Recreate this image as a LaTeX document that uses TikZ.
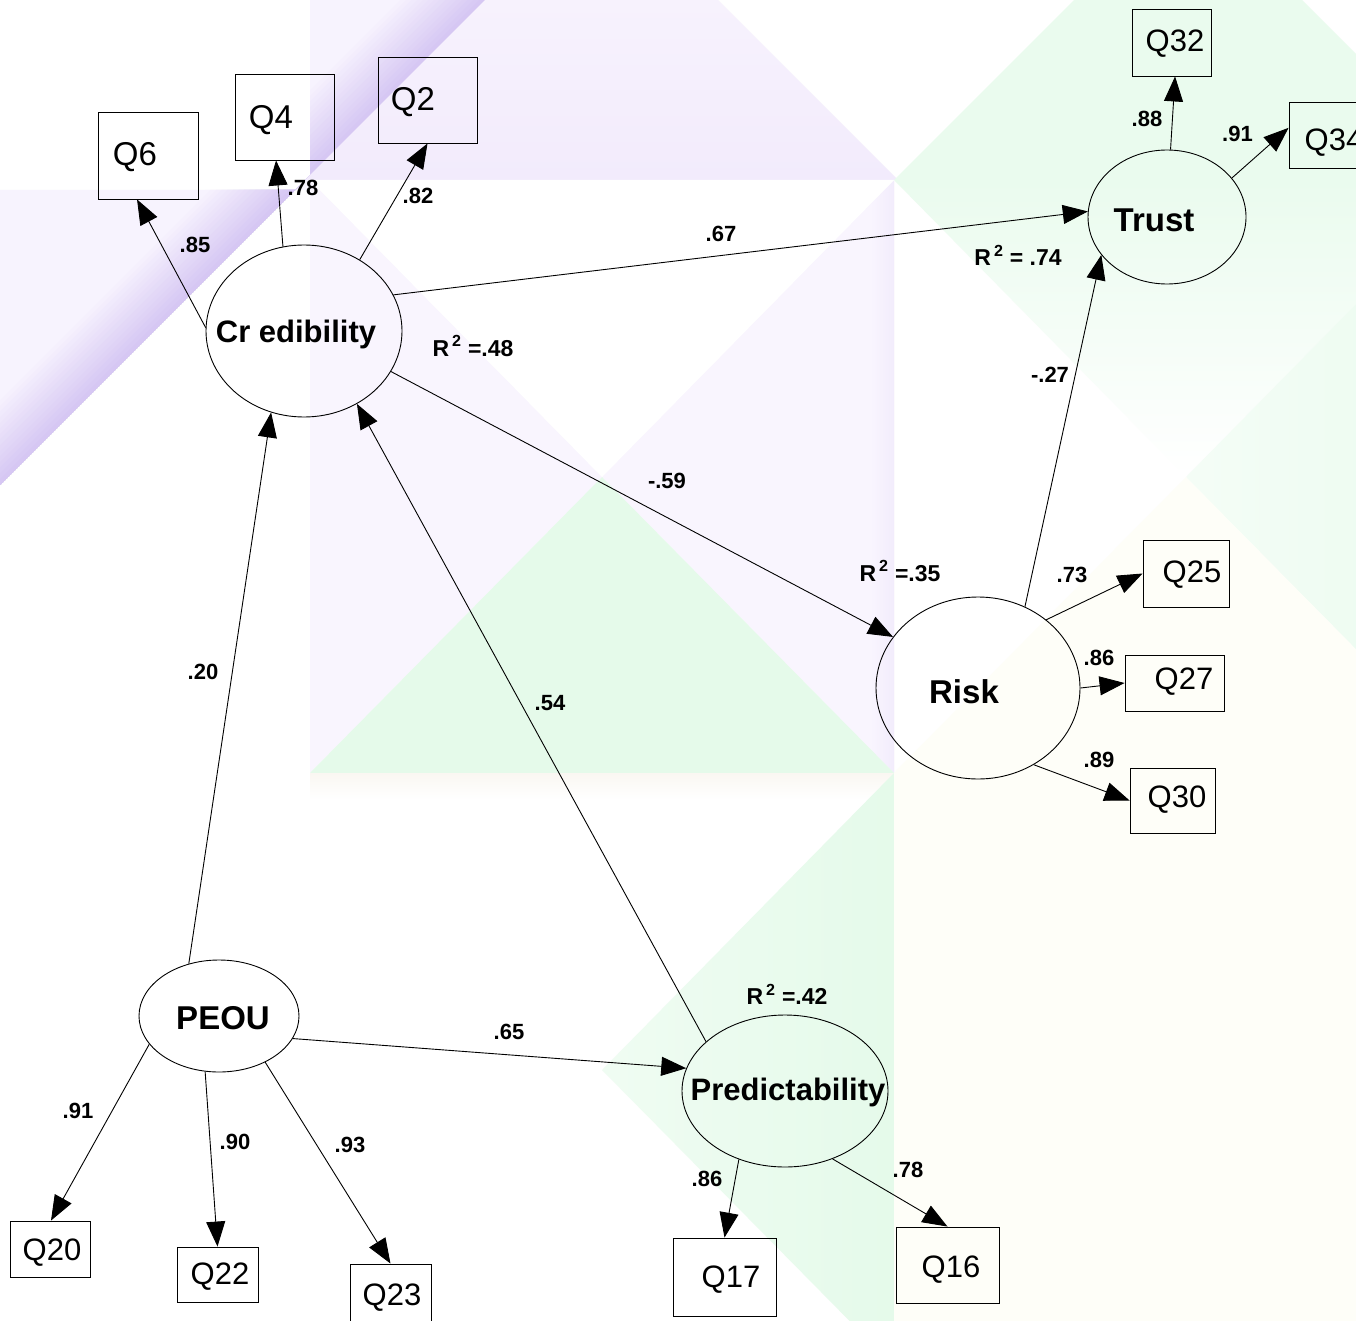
\documentclass[tikz,border=0pt]{standalone}
\usepackage{fontspec}
\setmainfont{Liberation Sans}
\usetikzlibrary{arrows.meta,shapes.geometric}
\definecolor{pL}{HTML}{F7F3FE}
\definecolor{pD}{HTML}{D6C7F3}
\definecolor{lavA}{HTML}{F7F2FD}
\definecolor{lavA2}{HTML}{F2EBFC}
\definecolor{lavB}{HTML}{F9F5FE}
\definecolor{lavEdge}{HTML}{F2ECFC}
\definecolor{grn}{HTML}{E5FAEA}
\definecolor{grnR}{HTML}{EAFBEE}
\definecolor{cream}{HTML}{FEFEF8}
\definecolor{shadowc}{HTML}{FAF7F2}
\begin{document}
\begin{tikzpicture}[x=1pt,y=-1pt,
  lat/.style={draw, ellipse, line width=0.9pt, inner sep=0pt},
  obs/.style={draw, rectangle, line width=0.9pt, inner sep=0pt},
  latname/.style={inner sep=0pt, anchor=base, font=\fontsize{#1}{#1}\selectfont\bfseries},
  qname/.style={inner sep=0pt, font=\fontsize{#1}{#1}\selectfont},
  coef/.style={inner sep=0pt, font=\fontsize{22}{22}\selectfont\bfseries},
  rsq/.style={inner sep=0pt, font=\fontsize{23}{23}\selectfont\bfseries},
  conn/.style={line width=0.9pt, -{Triangle[length=25pt,width=19pt]}}]
\path[use as bounding box] (0,0) rectangle (1356,1321);
\clip (0,0) rectangle (1356,1321);
\fill[white] (0,0) rectangle (1356,1321);
% ---------- background ----------
% purple band
\fill[pL] (0,190) -- (310,190) -- (310,0) -- (485,0) -- (0,485) -- cycle;
\begin{scope}
  \clip (0,190) -- (310,190) -- (310,0) -- (485,0) -- (0,485) -- cycle;
  \foreach \k in {0,...,15}{
    \pgfmathsetmacro{\c}{395+\k*5.6}
    \pgfmathsetmacro{\p}{\k*100/15}
    \fill[pD!\p!pL] (0,\c) -- (\c,0) -- (485,0) -- (0,485) -- cycle;
  }
\end{scope}
% top middle (lavender, a little darker towards its lower edge)
\shade[top color=lavA, bottom color=lavA2] (485,0) -- (718,0) -- (898,180) -- (305,180) -- cycle;
% centre square
\fill[lavB] (310,180) -- (602,477) -- (310,773) -- cycle;
\fill[lavB] (894,180) -- (602,477) -- (894,773) -- cycle;
\shade[left color=lavB, right color=lavEdge] (870,204) -- (894,180) -- (894,773) -- (870,749) -- cycle;
\fill[white] (310,180) -- (894,180) -- (602,477) -- cycle;
\fill[grn] (310,773) -- (602,477) -- (894,773) -- cycle;
\shade[top color=shadowc, bottom color=white] (310,773) rectangle (894,800);
% right column
\fill[grnR] (1074,0) -- (1302,0) -- (1356,54) -- (1356,180) -- (894,180) -- cycle;
\shade[top color=grnR, bottom color=white] (894,180) -- (1478,180) -- (1186,477) -- cycle;
\shade[left color=white!50!grnR, right color=grnR] (1478,180) -- (1186,477) -- (1478,773) -- cycle;
\fill[cream] (894,773) -- (1186,477) -- (1478,773) -- cycle;
\fill[cream] (894,773) rectangle (1356,1321);
% bottom middle
\shade[left color=white!40!grn, right color=grn] (894,773) -- (602,1070) -- (894,1366) -- cycle;
% ---------- latent variables ----------
\node[lat, minimum width=196pt, minimum height=172pt] (cred) at (304,331) {};
\node[lat, minimum width=158pt, minimum height=134pt] (trust) at (1167,217) {};
\node[lat, minimum width=204pt, minimum height=182pt] (risk) at (978,688) {};
\node[lat, minimum width=160pt, minimum height=112pt] (peou) at (219,1016) {};
\node[lat, minimum width=206pt, minimum height=152pt] (pred) at (785,1091) {};
\node[latname=31] (credT) at (296,342) {Cr edibility};
\node[latname=33] (trustT) at (1154,232) {Trust};
\node[latname=33] (riskT) at (964,703) {Risk};
\node[latname=33] (peouT) at (223,1029) {PEOU};
\node[latname=31] (predT) at (788,1100) {Predictability};
% ---------- observed variables ----------
\node[obs, minimum width=100pt, minimum height=87pt] (q6) at (148,155.5) {};
\node[obs, minimum width=99pt, minimum height=86pt] (q4) at (284.5,117) {};
\node[obs, minimum width=99pt, minimum height=86pt] (q2) at (427.5,100) {};
\node[obs, minimum width=79pt, minimum height=67pt] (q32) at (1171.5,42.5) {};
\node[obs, minimum width=101pt, minimum height=66pt] (q34) at (1339.5,135) {};
\node[obs, minimum width=86pt, minimum height=67pt] (q25) at (1186,573.5) {};
\node[obs, minimum width=99pt, minimum height=56pt] (q27) at (1174.5,683) {};
\node[obs, minimum width=85pt, minimum height=65pt] (q30) at (1172.5,800.5) {};
\node[obs, minimum width=103pt, minimum height=78pt] (q17) at (724.5,1277) {};
\node[obs, minimum width=103pt, minimum height=76pt] (q16) at (947.5,1265) {};
\node[obs, minimum width=80pt, minimum height=56pt] (q20) at (50,1249) {};
\node[obs, minimum width=81pt, minimum height=55pt] (q22) at (217.5,1274.5) {};
\node[obs, minimum width=81pt, minimum height=62pt] (q23) at (390.5,1295) {};
\node[qname=33] (q6t) at (135,157) {Q6};
\node[qname=33] (q4t) at (271,120) {Q4};
\node[qname=33] (q2t) at (413,102) {Q2};
\node[qname=31] (q32t) at (1175,44) {Q32};
\node[qname=31] (q34t) at (1334,143) {Q34};
\node[qname=31] (q25t) at (1192,575) {Q25};
\node[qname=31] (q27t) at (1184,682) {Q27};
\node[qname=31] (q30t) at (1177,800) {Q30};
\node[qname=31] (q17t) at (731,1280) {Q17};
\node[qname=31] (q16t) at (951,1270) {Q16};
\node[qname=31] (q20t) at (52,1253) {Q20};
\node[qname=31] (q22t) at (220,1277) {Q22};
\node[qname=31] (q23t) at (392,1298) {Q23};
% ---------- connectors ----------
\draw[conn] (cred.178) -- (q6.-104);
\draw[conn] (cred.104) -- (q4.-101);
\draw[conn] (cred.52.5) -- (q2.-90);
\draw[conn] (cred.22) -- (trust.176);
\draw[conn] (cred.-25.5) -- (risk.149);
\draw[conn] (peou.120.5) -- (cred.248);
\draw[conn] (pred.148.5) -- (cred.-54.7);
\draw[conn] (peou.-17) -- (pred.167.5);
\draw[conn] (risk.60.5) -- (trust.210.5);
\draw[conn] (trust.87.4) -- (q32.-84);
\draw[conn] (trust.31) -- (q34.172);
\draw[conn] (risk.45.6) -- (q25.west);
\draw[conn] (risk.0.6) -- (q27.west);
\draw[conn] (risk.-54.8) -- (q30.west);
\draw[conn] (peou.202) -- (q20.88);
\draw[conn] (peou.256.5) -- (q22.north);
\draw[conn] (peou.-45.6) -- (q23.north);
\draw[conn] (pred.236) -- (q17.north);
\draw[conn] (pred.-55.7) -- (q16.north);
% ---------- coefficients ----------
\node[coef] (c1) at (195,245) {.85};
\node[coef] (c2) at (303,188) {.78};
\node[coef] (c3) at (418,196) {.82};
\node[coef] (c4) at (721,234) {.67};
\node[coef] (c5) at (667,480.5) {-.59};
\node[coef] (c6) at (203,672) {.20};
\node[coef] (c7) at (550,703.5) {.54};
\node[coef] (c8) at (509,1032) {.65};
\node[coef] (c9) at (1050,374.5) {-.27};
\node[coef] (c10) at (1147,119) {.88};
\node[coef] (c11) at (1237.5,134) {.91};
\node[coef] (c12) at (1072,574.5) {.73};
\node[coef] (c13) at (1099,658) {.86};
\node[coef] (c14) at (1099,760) {.89};
\node[coef] (c15) at (78,1111) {.91};
\node[coef] (c16) at (235,1142) {.90};
\node[coef] (c17) at (350,1145) {.93};
\node[coef] (c18) at (707,1179) {.86};
\node[coef] (c19) at (908,1170) {.78};
% ---------- R squared ----------
\node[rsq] (r1) at (473,346) {R\hspace{3pt}\textsuperscript{2} =.48};
\node[rsq] (r2) at (1018,255) {R\hspace{3pt}\textsuperscript{2} = .74};
\node[rsq] (r3) at (900,571) {R\hspace{3pt}\textsuperscript{2} =.35};
\node[rsq] (r4) at (787,994) {R\hspace{3pt}\textsuperscript{2} =.42};
\end{tikzpicture}
\end{document}
